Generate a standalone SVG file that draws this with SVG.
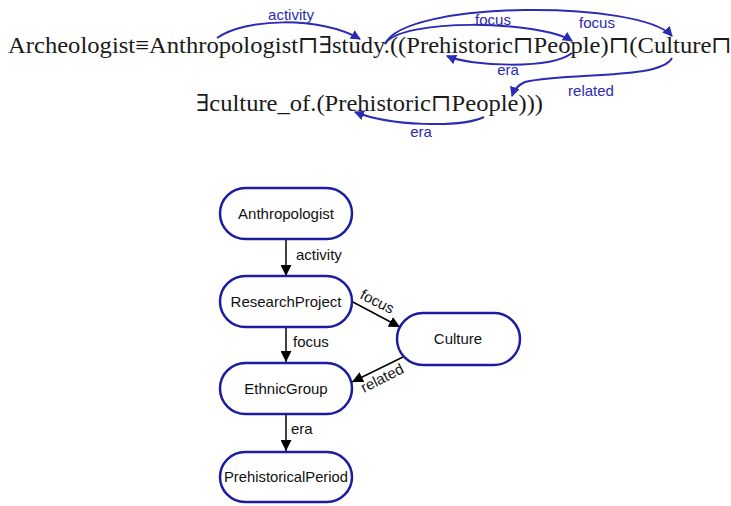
<svg xmlns="http://www.w3.org/2000/svg" width="731" height="506" viewBox="0 0 731 506">
<style>
.formula{font-family:"Liberation Serif","DejaVu Serif",serif;font-size:23.5px;fill:#1a1a1a}
.arc{fill:none;stroke:#2b2bb5;stroke-width:2}
.alab{font-family:"Liberation Sans",Arial,sans-serif;font-size:15px;fill:#2b2bb5;text-anchor:middle}
.node rect{fill:#fff;stroke:#1c1ca0;stroke-width:2.5}
.node text{font-family:"Liberation Sans",Arial,sans-serif;font-size:15px;fill:#111;text-anchor:middle}
.edge{stroke:#000;stroke-width:1.5;fill:none}
.elab{font-family:"Liberation Sans",Arial,sans-serif;font-size:15px;fill:#111}
</style>
<defs>
<marker id="ab" viewBox="0 0 10 10" refX="9" refY="5" markerWidth="10" markerHeight="10" markerUnits="userSpaceOnUse" orient="auto">
<path d="M0,0 L10,5 L0,10 z" fill="#2b2bb5"/>
</marker>
<marker id="ak" viewBox="0 0 10 10" refX="10" refY="5" markerWidth="11" markerHeight="11" markerUnits="userSpaceOnUse" orient="auto">
<path d="M0,0 L10,5 L0,10 z" fill="#000"/>
</marker>
</defs>
<g id="formula">
<text class="formula" x="8" y="53" textLength="724" lengthAdjust="spacingAndGlyphs">Archeologist≡Anthropologist⊓∃study.((Prehistoric⊓People)⊓(Culture⊓</text>
<text class="formula" x="196" y="111" textLength="347" lengthAdjust="spacingAndGlyphs">∃culture_of.(Prehistoric⊓People)))</text>
</g>
<g id="formula-arcs">
<path class="arc" d="M217,38 C245,18 320,16 360,39" marker-end="url(#ab)"/>
<text class="alab" x="291" y="20">activity</text>
<path class="arc" d="M385,44 C400,18 540,20 572,41" marker-end="url(#ab)"/>
<text class="alab" x="493" y="25">focus</text>
<path class="arc" d="M385,44 C405,0 640,0 672,36" marker-end="url(#ab)"/>
<text class="alab" x="597" y="28">focus</text>
<path class="arc" d="M572,53 C550,70 470,66 447,56" marker-end="url(#ab)"/>
<text class="alab" x="508" y="75">era</text>
<path class="arc" d="M672,58 C660,80 570,72 525,82 C518,85 514,90 512,96" marker-end="url(#ab)"/>
<text class="alab" x="591" y="96">related</text>
<path class="arc" d="M484,117 C460,128 390,126 355,112" marker-end="url(#ab)"/>
<text class="alab" x="421" y="137">era</text>
</g>
<g id="connectors">
<line class="edge" x1="286" y1="239" x2="286" y2="276" marker-end="url(#ak)"/>
<text class="elab" x="296" y="260">activity</text>
<line class="edge" x1="286" y1="327" x2="286" y2="362" marker-end="url(#ak)"/>
<text class="elab" x="293" y="347">focus</text>
<line class="edge" x1="286" y1="414" x2="286" y2="451" marker-end="url(#ak)"/>
<text class="elab" x="291" y="434">era</text>
<line class="edge" x1="351" y1="301" x2="400" y2="327" marker-end="url(#ak)"/>
<text class="elab" transform="translate(359,298) rotate(27)">focus</text>
<line class="edge" x1="403" y1="357" x2="352" y2="382" marker-end="url(#ak)"/>
<text class="elab" transform="translate(364,393) rotate(-27)">related</text>
</g>
<g id="node-anthropologist" class="node">
<rect x="220" y="188" width="132" height="51" rx="25.5"/>
<text x="286" y="219">Anthropologist</text>
</g>
<g id="node-researchproject" class="node">
<rect x="220" y="276" width="132" height="51" rx="25.5"/>
<text x="286" y="307">ResearchProject</text>
</g>
<g id="node-culture" class="node">
<rect x="397" y="313" width="123" height="52" rx="26"/>
<text x="458" y="344">Culture</text>
</g>
<g id="node-ethnicgroup" class="node">
<rect x="220" y="363" width="132" height="51" rx="25.5"/>
<text x="286" y="394">EthnicGroup</text>
</g>
<g id="node-prehistoricalperiod" class="node">
<rect x="220" y="452" width="132" height="50" rx="25"/>
<text x="286" y="482" textLength="124" lengthAdjust="spacingAndGlyphs">PrehistoricalPeriod</text>
</g>
</svg>
